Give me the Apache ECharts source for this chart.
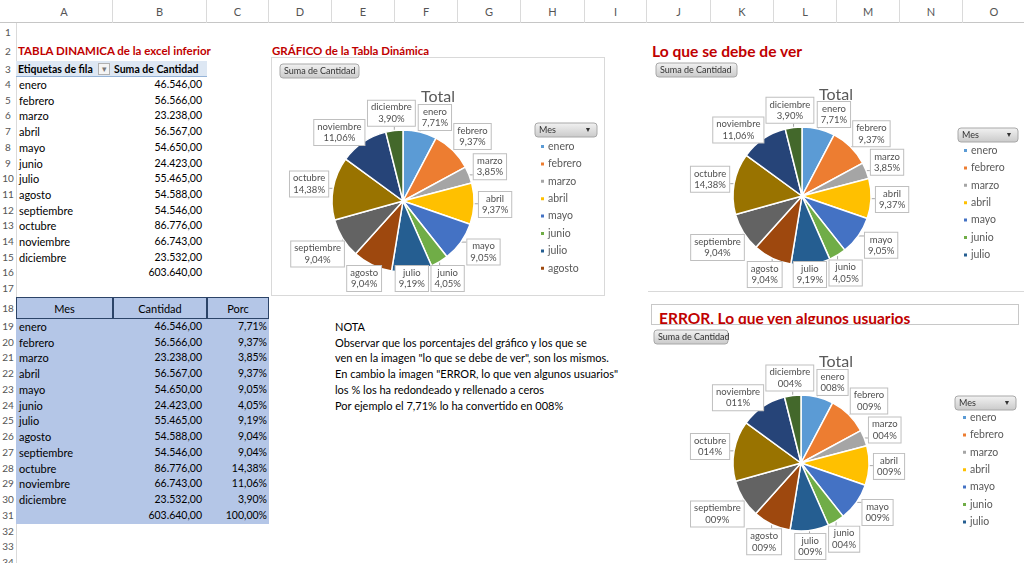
<!DOCTYPE html>
<html>
<head>
<meta charset="utf-8">
<script src="https://cdn.jsdelivr.net/npm/echarts@6/dist/echarts.min.js"></script>
<style>
html, body { margin: 0; padding: 0; background: #fff; }
#hoja {
    position: relative;
    width: 1024px;
    height: 563px;
    overflow: hidden;
    font-family: Lato, 'Open Sans', sans-serif;
    font-size: 11px;
    color: #000;
}
.c { position: absolute; white-space: nowrap; box-sizing: border-box; }
.grafico { position: absolute; box-sizing: border-box; }
.titulo { color: #c00000; font-weight: bold; }
</style>
</head>
<body>
<div id="hoja"></div>
<script>
const meses = ['enero', 'febrero', 'marzo', 'abril', 'mayo', 'junio', 'julio',
    'agosto', 'septiembre', 'octubre', 'noviembre', 'diciembre'];
const cantidad = [46546, 56566, 23238, 56567, 54650, 24423, 55465, 54588, 54546, 86776, 66743, 23532];
const porc = [7.71, 9.37, 3.85, 9.37, 9.05, 4.05, 9.19, 9.04, 9.04, 14.38, 11.06, 3.90];
const total = 603640;
const porcTotal = 100;
const letras = ['A', 'B', 'C', 'D', 'E', 'F', 'G', 'H', 'I', 'J', 'K', 'L', 'M', 'N', 'O'];
const nota = [
    'NOTA',
    'Observar que los porcentajes del gráfico y los que se',
    'ven en la imagen "lo que se debe de ver", son los mismos.',
    'En cambio la imagen "ERROR, lo que ven algunos usuarios"',
    'los % los ha redondeado y rellenado a ceros',
    'Por ejemplo el 7,71% lo ha convertido en 008%'
];
// colores de office 2013 para las porciones
const colores = ['#5b9bd5', '#ed7d31', '#a5a5a5', '#ffc000', '#4472c4', '#70ad47',
    '#255e91', '#9e480e', '#636363', '#997300', '#264478', '#43682b'];

const FUENTE = 'Lato, "Open Sans", sans-serif';
const hoja = document.getElementById('hoja');

// bordes de columnas (px)
const colX = [16, 113, 207, 269, 332, 395, 458, 521, 585, 647, 711, 774, 837, 900, 963, 1026];

function altoFila(r) {
    if (r == 1) return 18;
    if (r == 2) return 20;
    if (r == 3) return 16;
    if (r <= 17) return 15.7;
    if (r == 18) return 22;
    return 15.75;
}
function topFila(r) {
    let y = 23;
    for (let i = 1; i < r; i++) y += altoFila(i);
    return y;
}

function caja(x, y, w, h, texto, css) {
    let d = document.createElement('div');
    d.className = 'c';
    d.style.left = x + 'px';
    d.style.top = y + 'px';
    d.style.width = w + 'px';
    d.style.height = h + 'px';
    d.style.lineHeight = h + 'px';
    if (css) Object.assign(d.style, css);
    d.textContent = texto || '';
    hoja.appendChild(d);
    return d;
}

// texto dentro de una celda
function celda(col, fila, texto, css) {
    let x = colX[col], w = colX[col + 1] - colX[col];
    return caja(x, topFila(fila), w, altoFila(fila), texto, Object.assign({ padding: '0 3px' }, css || {}));
}

function numero(n) {
    return String(n).replace(/\B(?=(\d{3})+(?!\d))/g, '.') + ',00';
}
function pct(p) {
    return p.toFixed(2).replace('.', ',') + '%';
}

// ---------- cabeceras de la hoja ----------
caja(0, 0, 1024, 23, '', { borderBottom: '1px solid #c6c6c6' });
letras.forEach((l, i) => {
    caja(colX[i], 0, colX[i + 1] - colX[i], 23, l, {
        textAlign: 'center', color: '#555', borderRight: '1px solid #dadada'
    });
});
caja(16, 23, 1, 540, '', { background: '#dadada' });
for (let r = 1; r <= 34; r++) {
    caja(0, topFila(r), 16, altoFila(r), String(r), { textAlign: 'center', color: '#555', fontSize: '10px' });
}

const NUM = { textAlign: 'right', paddingRight: '5px', fontSize: '10.5px' };

// ---------- tabla dinamica ----------
caja(18, topFila(2), 240, altoFila(2), 'TABLA DINAMICA de la excel inferior', { fontSize: '11.5px' }).classList.add('titulo');
caja(16, topFila(3), colX[2] - 16, altoFila(3), '', { background: '#dde7f3', borderBottom: '1px solid #95b3d7' });
celda(0, 3, 'Etiquetas de fila', { fontWeight: 'bold', fontSize: '10.5px', paddingLeft: '2px' });
caja(98, topFila(3) + 2, 12, 12, '▾', {
    border: '1px solid #b0b0b0', background: '#f4f4f4', color: '#777', fontSize: '9px',
    lineHeight: '10px', textAlign: 'center'
});
celda(1, 3, 'Suma de Cantidad', { fontWeight: 'bold', fontSize: '10.5px', paddingLeft: '1px' });
meses.forEach((m, i) => {
    celda(0, 4 + i, m);
    celda(1, 4 + i, numero(cantidad[i]), NUM);
});
celda(1, 16, numero(total), NUM);

// ---------- tabla inferior ----------
caja(16, topFila(18), colX[3] - 16, topFila(32) - topFila(18), '', { background: '#b4c6e7' });
['Mes', 'Cantidad', 'Porc'].forEach((t, i) => {
    celda(i, 18, t, { textAlign: 'center', border: '1px solid #2c4468' });
});
meses.forEach((m, i) => {
    celda(0, 19 + i, m);
    celda(1, 19 + i, numero(cantidad[i]), NUM);
    celda(2, 19 + i, pct(porc[i]), Object.assign({}, NUM, { paddingRight: '2px' }));
});
celda(1, 31, numero(total), NUM);
celda(2, 31, pct(porcTotal), Object.assign({}, NUM, { paddingRight: '2px' }));

// ---------- nota ----------
nota.forEach((t, i) => celda(4, 19 + i, t));

// ---------- titulos ----------
caja(272, topFila(2), 240, altoFila(2), 'GRÁFICO de la Tabla Dinámica', { fontSize: '11.5px' }).classList.add('titulo');
caja(652, 40, 300, 22, 'Lo que se debe de ver', { fontSize: '15.6px' }).classList.add('titulo');
let err = caja(651, 304, 368, 21, '', { border: '1px solid #c8c8c8', background: '#fff', overflow: 'hidden' });
let errT = document.createElement('div');
errT.className = 'c titulo';
Object.assign(errT.style, { left: '7px', top: '3px', fontSize: '15.5px', lineHeight: '20px' });
errT.textContent = 'ERROR, Lo que ven algunos usuarios';
err.appendChild(errT);

// ---------- graficos ----------
function boton(x, y, w, h, texto, flecha) {
    let hijos = [{
        type: 'rect',
        shape: { x: x, y: y, width: w, height: h, r: 3 },
        style: {
            fill: new echarts.graphic.LinearGradient(0, 0, 0, 1, [
                { offset: 0, color: '#f3f3f3' }, { offset: 1, color: '#c9c9c9' }
            ]),
            stroke: '#a8a8a8', lineWidth: 1
        }
    }, {
        type: 'text',
        style: {
            x: x + 4, y: y + h / 2, text: texto, fill: '#333',
            font: '9px ' + FUENTE, verticalAlign: 'middle'
        }
    }];
    if (flecha) {
        hijos.push({
            type: 'text',
            style: {
                x: x + w - 9, y: y + h / 2, text: '▼', fill: '#333',
                font: '7px ' + FUENTE, verticalAlign: 'middle', align: 'center'
            }
        });
    }
    return { type: 'group', children: hijos };
}

function seTocan(a, b) {
    return a.x < b.x + b.w + 1 && b.x < a.x + a.w + 1 && a.y < b.y + b.h + 1 && b.y < a.y + a.h + 1;
}

// caja de la etiqueta pegada al borde de la porcion, en la direccion ang,
// sin salirse del area del grafico
function colocar(centro, o, hueco, ang, alto) {
    let ux = Math.cos(ang), uy = Math.sin(ang);
    let t = Math.min(Math.abs(ux) > 1e-6 ? (o.w / 2) / Math.abs(ux) : 1e9,
        Math.abs(uy) > 1e-6 ? (o.h / 2) / Math.abs(uy) : 1e9);
    let d = o.r + hueco + t;
    let cx = centro[0] + ux * d, cy = centro[1] + uy * d;
    cy = Math.min(cy, alto - 3 - o.h / 2);
    return { x: cx - o.w / 2, y: cy - o.h / 2, w: o.w, h: o.h, cx: cx, cy: cy };
}

// separa las etiquetas vecinas que se pisan, girandolas poco a poco (como hace Excel)
function separar(centro, info, hueco, alto) {
    let n = info.length;
    let a = info.map(o => {
        let v = o.ang0 + Math.PI / 2;
        v = ((v % (2 * Math.PI)) + 2 * Math.PI) % (2 * Math.PI);
        return v - Math.PI / 2;
    });
    let paso = 0.5 * Math.PI / 180;
    for (let it = 0; it < 400; it++) {
        let movido = false;
        for (let i = 0; i < n; i++) {
            let j = (i + 1) % n;
            let bi = colocar(centro, info[i], hueco, a[i], alto);
            let bj = colocar(centro, info[j], hueco, a[j], alto);
            if (seTocan(bi, bj)) {
                a[i] -= paso;
                a[j] += paso;
                movido = true;
            }
        }
        if (!movido) break;
    }
    return a;
}

function ajusteEtiqueta(centro, hueco, alto, estado) {
    return function (params) {
        let pts = params.labelLinePoints;
        if (!pts) return {};
        let p0 = pts[0];
        let o = {
            r: Math.hypot(p0[0] - centro[0], p0[1] - centro[1]),
            ang0: Math.atan2(p0[1] - centro[1], p0[0] - centro[0]),
            w: params.labelRect.width,
            h: params.labelRect.height
        };
        estado.info[params.dataIndex] = o;
        let ang = estado.angulos ? estado.angulos[params.dataIndex] : o.ang0;
        let b = colocar(centro, o, hueco, ang, alto);
        let ex = Math.min(Math.max(p0[0], b.x), b.x + b.w);
        let ey = Math.min(Math.max(p0[1], b.y), b.y + b.h);
        return {
            x: b.cx,
            y: b.cy,
            align: 'center',
            verticalAlign: 'middle',
            labelLinePoints: [p0, [ex, ey]]
        };
    };
}

function grafico(cfg) {
    let div = document.createElement('div');
    div.className = 'grafico';
    Object.assign(div.style, {
        left: cfg.x + 'px', top: cfg.y + 'px', width: cfg.w + 'px', height: cfg.h + 'px'
    }, cfg.css || {});
    hoja.appendChild(div);
    let chart = echarts.init(div, null, { renderer: 'canvas' });
    let hueco = 4;
    let alto = chart.getHeight();
    let estado = { info: [], angulos: null };
    let opt = {
        animation: false,
        title: {
            text: 'Total', left: 'center', top: cfg.tituloY,
            textStyle: { fontSize: 16, fontWeight: 'normal', color: '#595959', fontFamily: FUENTE }
        },
        legend: {
            orient: 'vertical', left: cfg.leyX, top: cfg.leyY,
            data: meses.slice(0, cfg.nLeyenda),
            icon: 'rect', itemWidth: 5, itemHeight: 5, itemGap: 6.4,
            selectedMode: false,
            textStyle: { fontSize: 10.5, color: '#595959', fontFamily: FUENTE, padding: [0, 0, 0, -2] }
        },
        graphic: [
            boton(cfg.suma[0], cfg.suma[1], cfg.suma[2], 14, 'Suma de Cantidad', false),
            boton(cfg.mes[0], cfg.mes[1], cfg.mes[2], 14, 'Mes', true)
        ],
        series: [{
            type: 'pie',
            center: cfg.centro,
            radius: cfg.radio,
            startAngle: 90,
            clockwise: true,
            avoidLabelOverlap: false,
            data: meses.map((m, i) => ({ name: m, value: cantidad[i], itemStyle: { color: colores[i] } })),
            itemStyle: { borderColor: '#fff', borderWidth: 1.5 },
            emphasis: { disabled: true },
            label: {
                show: true,
                position: 'outside',
                overflow: 'none',
                formatter: p => p.name + '\n' + cfg.etiqueta(p.dataIndex),
                fontFamily: FUENTE,
                fontSize: 9.5,
                lineHeight: 11.5,
                color: '#505050',
                backgroundColor: '#fff',
                borderColor: '#bfbfbf',
                borderWidth: 1,
                padding: [1, 3]
            },
            labelLine: { show: true, length: 6, length2: 0, lineStyle: { color: '#a6a6a6', width: 1 } },
            labelLayout: ajusteEtiqueta(cfg.centro, hueco, alto, estado)
        }]
    };
    // primera pasada: medir etiquetas; segunda: con los angulos ya separados
    chart.setOption(opt);
    if (estado.info.length === meses.length) {
        estado.angulos = separar(cfg.centro, estado.info, hueco, alto);
        chart.setOption(opt, true);
    }
    window.addEventListener('resize', function () {
        chart.resize();
    });
}

const etiquetaBien = i => pct(porc[i]);
const etiquetaError = i => String(Math.round(porc[i])).padStart(3, '0') + '%';

grafico({
    x: 271, y: 57, w: 334, h: 239,
    css: { border: '1px solid #d9d9d9', background: '#fff' },
    tituloY: 26, centro: [131, 143], radio: 71,
    leyX: 262, leyY: 78, nLeyenda: 8,
    suma: [8, 6, 79], mes: [263, 65, 62],
    etiqueta: etiquetaBien
});
grafico({
    x: 648, y: 60, w: 376, h: 232,
    css: { borderBottom: '1px solid #d9d9d9' },
    tituloY: 22, centro: [154, 136], radio: 69,
    leyX: 309, leyY: 80, nLeyenda: 7,
    suma: [8, 3, 81], mes: [310, 68, 60],
    etiqueta: etiquetaBien
});
grafico({
    x: 648, y: 326, w: 376, h: 237,
    tituloY: 23, centro: [153, 137], radio: 68,
    leyX: 308, leyY: 81, nLeyenda: 7,
    suma: [6, 4, 74], mes: [307, 70, 61],
    etiqueta: etiquetaError
});
</script>
</body>
</html>
